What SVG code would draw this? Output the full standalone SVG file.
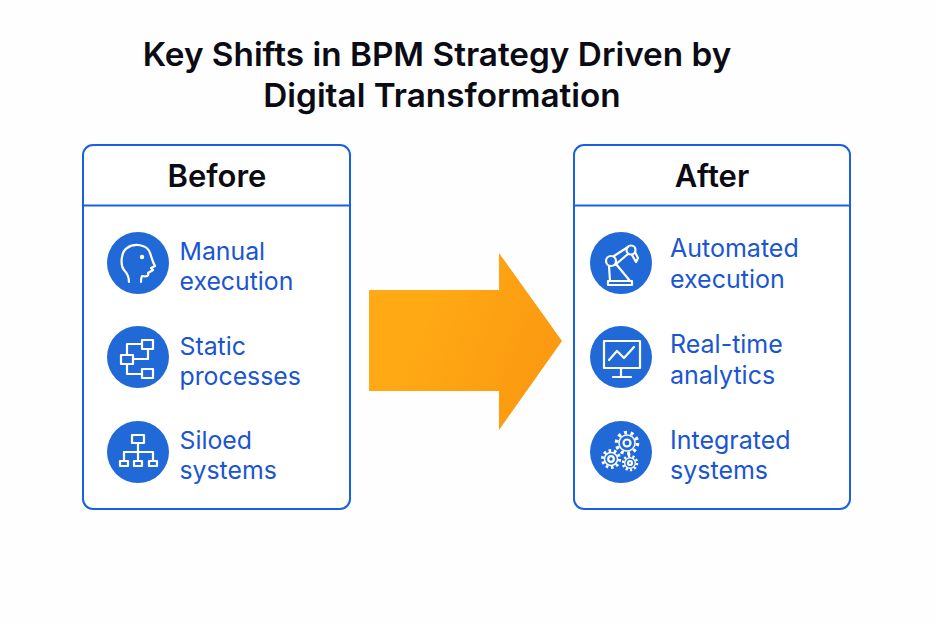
<svg xmlns="http://www.w3.org/2000/svg" width="936" height="624" viewBox="0 0 936 624">
<style>
text{font-family:"Inter","Liberation Sans",sans-serif}
.t{font-size:33.300px;font-weight:600;fill:#0b0b14;text-anchor:middle}
.h{font-size:31px;font-weight:600;fill:#0b0b14;text-anchor:middle}
.l{font-size:25px;fill:#1a55d2}
.ls{font-size:24.800px;fill:#1a55d2}
.box{fill:#fff;stroke:#1a60e0;stroke-width:2}
.c{fill:#2269d8}
.i{fill:none;stroke:#fff;stroke-width:2.200;stroke-linejoin:round;stroke-linecap:round}
</style>
<defs>
<linearGradient id="ag" gradientUnits="userSpaceOnUse" x1="420" y1="300" x2="565" y2="360"><stop offset="0" stop-color="#ffaa14"/><stop offset="1" stop-color="#fb9810"/></linearGradient>
</defs>
<rect width="936" height="624" fill="#fefefe"/>
<g id="title"><text class="t" x="437" y="66">Key Shifts in BPM Strategy Driven by</text><text class="t" x="442" y="107">Digital Transformation</text></g>
<g id="before">
<rect class="box" x="83" y="145" width="267" height="364" rx="10"/>
<path d="M83 205.500H350" stroke="#1a60e0" stroke-width="2"/>
<text class="h" x="217" y="187">Before</text>
<g id="manual"><circle class="c" cx="138" cy="263" r="31"/>
<path class="i" d="M129 282C129 276 127 273 124 270C120 265 121 252 127 248C134 243 147 244 150 253C152 258 152 261 155 266L151 268L153 270L148 273C149 276 147 277 142 276C141 278 141 280 141 282"/><circle cx="142" cy="257" r="2.200" fill="#fff"/>
<text class="ls" x="179.500" y="260">Manual</text><text class="ls" x="179.500" y="290">execution</text></g>
<g id="static"><circle class="c" cx="138" cy="357" r="31"/>
<g class="i"><rect x="142" y="340" width="11" height="9"/><rect x="121" y="355" width="12" height="9"/><rect x="142" y="369" width="11" height="9"/><path d="M127 355V344H142M133 359H148V349M127 364V374H142"/></g>
<text class="ls" x="179.500" y="355">Static</text><text class="ls" x="179.500" y="385">processes</text></g>
<g id="siloed"><circle class="c" cx="138" cy="452" r="31"/>
<g class="i"><rect x="132" y="435" width="12" height="8"/><rect x="120" y="461" width="8" height="5"/><rect x="134" y="461" width="8" height="5"/><rect x="149" y="461" width="8" height="5"/><path d="M138 443V461M124 461V452H153V461"/></g>
<text class="ls" x="179.500" y="449">Siloed</text><text class="ls" x="179.500" y="479">systems</text></g>
</g>
<g id="connectors"><path id="arrow" d="M369 290H499V253L562 341L499 430V391H369Z" fill="url(#ag)"/></g>
<g id="after">
<rect class="box" x="574" y="145" width="276" height="364" rx="10"/>
<path d="M574 205.500H850" stroke="#1a60e0" stroke-width="2"/>
<text class="h" x="712" y="187">After</text>
<g id="automated"><circle class="c" cx="621" cy="263" r="31"/>
<g class="i"><circle cx="611" cy="261" r="5"/><circle cx="631" cy="250" r="4.500"/><path d="M614 256L628 247M615 265L628 254M635 252L638 258L636 262L632 255M609 266L610 281M616 264L630 281M608 281H632V285H608Z"/></g>
<text class="l" x="670" y="257">Automated</text><text class="l" x="670" y="288">execution</text></g>
<g id="realtime"><circle class="c" cx="621" cy="357" r="31"/>
<g class="i"><rect x="604" y="341" width="36" height="27"/><path d="M609 360L617 351L624 358L634 347M621 368V376M613 377H631"/></g>
<text class="l" x="670" y="353">Real-time</text><text class="l" x="670" y="384">analytics</text></g>
<g id="integrated"><circle class="c" cx="621" cy="452" r="31"/>
<g class="i"><circle cx="627" cy="443" r="10.500" stroke-width="3.500" stroke-linecap="butt" stroke-dasharray="3 3.600"/><circle cx="627" cy="443" r="8" stroke-width="1.500"/><circle cx="627" cy="443" r="3.500"/><circle cx="611" cy="459" r="8.500" stroke-width="3" stroke-linecap="butt" stroke-dasharray="2.600 2.740"/><circle cx="611" cy="459" r="6.500" stroke-width="1.500"/><circle cx="611" cy="459" r="2.800"/><circle cx="630" cy="463" r="7" stroke-width="2.500" stroke-linecap="butt" stroke-dasharray="2.200 2.200"/><circle cx="630" cy="463" r="5.300" stroke-width="1.400"/><circle cx="630" cy="463" r="2"/></g>
<text class="l" x="670" y="449">Integrated</text><text class="l" x="670" y="479">systems</text></g>
</g>
</svg>
